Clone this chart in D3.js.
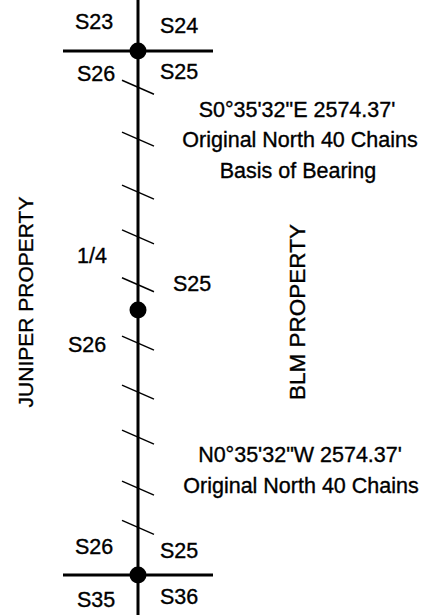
<!DOCTYPE html>
<html><head><meta charset="utf-8">
<script src="https://cdn.jsdelivr.net/npm/d3@7"></script>
<style>html,body{margin:0;padding:0;background:#fff;}svg{display:block;}</style>
</head><body>
<script>
// Section line data (distances in chains, measured from the north corner)
const corners = [0, 40, 80];            // section corner, 1/4 corner, section corner
const tickChains = [5.6, 13.6, 21.8, 28.7, 36.1, 45.0, 52.4, 59.2, 66.9, 72.8];
const crossLines = [0, 80];             // east-west section lines at the section corners
const crossExtent = [-10, 10];          // chains west / east of the line

const sectionLabels = [
  {t:"S23", dx:-63, dy:29}, {t:"S24", dx:22, dy:33},
  {t:"S26", dx:-61, dy:81}, {t:"S25", dx:22, dy:79},
  {t:"1/4", dx:-61, dy:263}, {t:"S25", dx:35, dy:291},
  {t:"S26", dx:-70, dy:352},
  {t:"S26", dx:-63, dy:554}, {t:"S25", dx:22, dy:558},
  {t:"S35", dx:-61, dy:607}, {t:"S36", dx:22, dy:604}
];
const bearingTexts = [
  {t:"S0°35'32\"E 2574.37'", x:297, y:117},
  {t:"Original North 40 Chains", x:300, y:147},
  {t:"Basis of Bearing", x:298, y:178},
  {t:"N0°35'32\"W 2574.37'", x:300, y:462},
  {t:"Original North 40 Chains", x:301, y:493}
];
const propertyTexts = [
  {t:"JUNIPER PROPERTY", x:33, y:302, s:21},
  {t:"BLM PROPERTY", x:305, y:312, s:22.5}
];

const W = 438, H = 615, X0 = 138;
const svg = d3.select("body").append("svg").attr("width", W).attr("height", H);

const y = d3.scaleLinear().domain([0, 40, 80]).range([51, 310, 575]);
const x = d3.scaleLinear().domain(crossExtent).range([X0 - 75, X0 + 75]);

svg.append("line").attr("x1", X0).attr("x2", X0).attr("y1", 0).attr("y2", H)
  .attr("stroke", "#000").attr("stroke-width", 3);

svg.selectAll("line.cross").data(crossLines).enter().append("line")
  .attr("class", "cross")
  .attr("x1", x(crossExtent[0])).attr("x2", x(crossExtent[1]))
  .attr("y1", d => y(d)).attr("y2", d => y(d))
  .attr("stroke", "#000").attr("stroke-width", 3);

svg.selectAll("line.tick").data(tickChains).enter().append("line")
  .attr("class", "tick")
  .attr("x1", X0 - 16).attr("x2", X0 + 16)
  .attr("y1", d => y(d) - 7).attr("y2", d => y(d) + 7)
  .attr("stroke", "#000").attr("stroke-width", 1.4);

svg.selectAll("circle").data(corners).enter().append("circle")
  .attr("cx", X0).attr("cy", d => y(d)).attr("r", 8.5).attr("fill", "#000");

const font = "'Liberation Sans', Arial, Helvetica, sans-serif";
function styleText(sel, size) {
  sel.attr("font-family", font).attr("font-size", size).attr("fill", "#000")
     .attr("stroke", "#000").attr("stroke-width", 0.35);
}
svg.selectAll("text.sec").data(sectionLabels).enter().append("text")
  .attr("class", "sec")
  .attr("x", d => X0 + d.dx).attr("y", d => d.dy)
  .attr("text-anchor", "start")
  .call(styleText, 21.5)
  .text(d => d.t);

svg.selectAll("text.brg").data(bearingTexts).enter().append("text")
  .attr("class", "brg")
  .attr("x", d => d.x).attr("y", d => d.y)
  .attr("text-anchor", "middle")
  .call(styleText, 21.5)
  .text(d => d.t);

svg.selectAll("text.prop").data(propertyTexts).enter().append("text")
  .attr("class", "prop")
  .attr("transform", d => `translate(${d.x},${d.y}) rotate(-90)`)
  .attr("text-anchor", "middle")
  .call(styleText, 21)
  .attr("font-size", d => d.s)
  .text(d => d.t);
</script>
</body></html>
